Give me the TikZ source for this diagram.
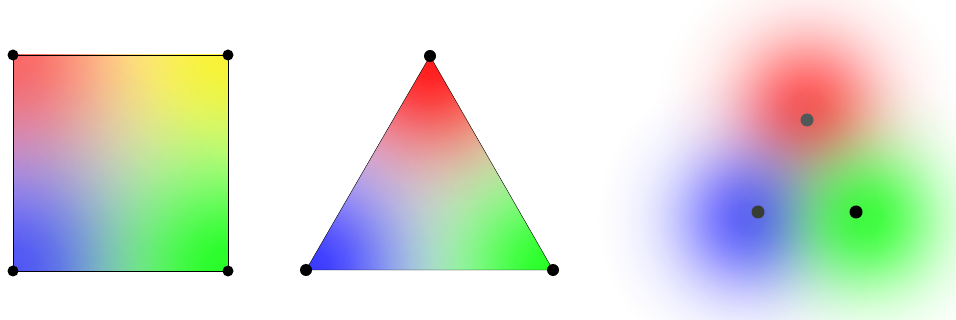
\documentclass[tikz,border=0pt]{standalone}
\usetikzlibrary{fadings}
\pgfdeclareradialshading{blobshade}{\pgfpointorigin}{%
  gray(0bp)=(1); gray(5bp)=(0.956); gray(10bp)=(0.835); gray(15bp)=(0.667);
  gray(20bp)=(0.487); gray(25bp)=(0.325); gray(30bp)=(0.198); gray(35bp)=(0.11);
  gray(40bp)=(0.056); gray(45bp)=(0.024); gray(50bp)=(0)}
\pgfdeclarefading{blobfade}{\pgfuseshading{blobshade}}
\definecolor{reddot}{RGB}{80,88,88}
\definecolor{bluedot}{RGB}{56,62,52}
\tikzset{vertex/.style={fill=black}}
% #1 colour, #2 centre, #3 spread (pt), #4 peak opacity
\newcommand\colourblob[4]{%
  \fill [#1, fill opacity=#4, path fading=blobfade, fit fading=false,
    fading transform={shift={(#2)}, scale={#3*0.06}}] (#2) circle ({#3*3pt});}

\begin{document}
\begin{tikzpicture}[x=1pt, y=-1pt]
\useasboundingbox (0,0) rectangle (956,320);
% square
\coordinate (SA) at (13,55);
\coordinate (SB) at (228,55);
\coordinate (SC) at (228,271);
\coordinate (SD) at (13,271);
\begin{scope}
\clip (SA) -- (SB) -- (SC) -- (SD) -- cycle;
\colourblob{red}{SA}{80}{0.6}
\colourblob{yellow}{SB}{80}{0.78}
\colourblob{blue}{SD}{80}{0.68}
\colourblob{green}{SC}{80}{0.85}
\end{scope}
\draw (SA) -- (SB) -- (SC) -- (SD) -- cycle;
\foreach \v in {SA,SB,SC,SD} \fill [vertex] (\v) circle (5.5pt);

% triangle
\coordinate (TR) at (430,56);
\coordinate (TG) at (553,270);
\coordinate (TB) at (306,270);
\begin{scope}
\clip (TR) -- (TG) -- (TB) -- cycle;
\colourblob{red}{TR}{72}{0.9}
\colourblob{blue}{TB}{72}{0.78}
\colourblob{green}{TG}{72}{0.85}
\end{scope}
\draw (TR) -- (TG) -- (TB) -- cycle;
\foreach \v in {TR,TG,TB} \fill [vertex] (\v) circle (6pt);

% blobs, centred a little outside their dots
\coordinate (BR) at (807,120);
\coordinate (BB) at (758,212);
\coordinate (BG) at (856,212);
\coordinate (CR) at (807,107);
\coordinate (CB) at (747,219);
\coordinate (CG) at (867,219);
\colourblob{red}{CR}{50}{0.66}
\colourblob{blue}{CB}{50}{0.62}
\colourblob{green}{CG}{50}{0.75}
\fill [reddot] (BR) circle (6.5pt);
\fill [bluedot] (BB) circle (6.5pt);
\fill [vertex] (BG) circle (6.5pt);
\end{tikzpicture}
\end{document}
